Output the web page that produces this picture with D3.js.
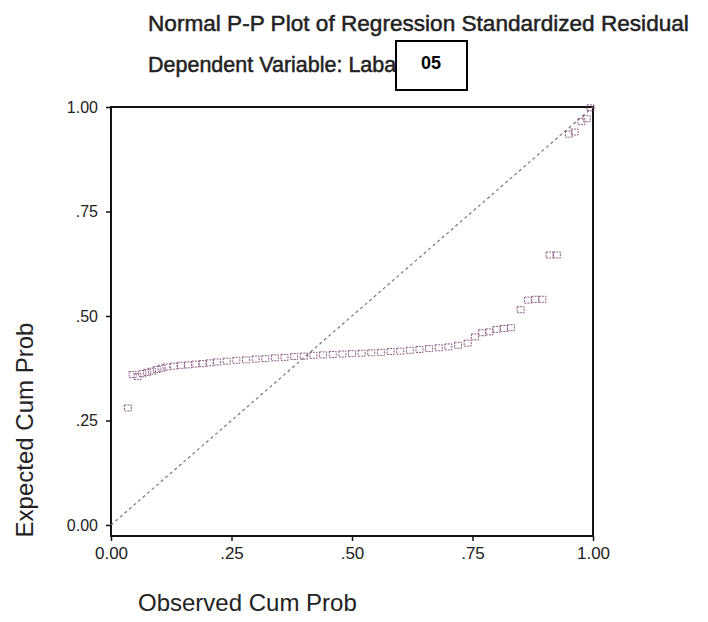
<!DOCTYPE html>
<html>
<head>
<meta charset="utf-8">
<script src="https://cdn.jsdelivr.net/npm/d3@7"></script>
<style>
  body { margin: 0; background: #fff; }
  text { font-family: "Liberation Sans", Arial, sans-serif; }
</style>
</head>
<body>
<svg id="chart" width="708" height="622"></svg>
<script>
// observed cum prob (x) and expected cum prob (y)
const observed = [0.035, 0.045, 0.055, 0.065, 0.075, 0.085, 0.095, 0.105, 0.115, 0.13,
    0.145, 0.16, 0.175, 0.19, 0.205, 0.22, 0.24, 0.26, 0.28, 0.30,
    0.32, 0.34, 0.36, 0.38, 0.40, 0.42, 0.44, 0.46, 0.48, 0.50,
    0.52, 0.54, 0.56, 0.58, 0.60, 0.62, 0.64, 0.66, 0.68, 0.70,
    0.72, 0.74, 0.755, 0.77, 0.785, 0.80, 0.815, 0.83, 0.85, 0.865,
    0.88, 0.895, 0.91, 0.925, 0.95, 0.962, 0.976, 0.987, 0.995]
const expected = [0.28, 0.36, 0.355, 0.362, 0.365, 0.368, 0.372, 0.375, 0.378, 0.38,
    0.382, 0.383, 0.385, 0.386, 0.388, 0.39, 0.392, 0.394, 0.395, 0.397,
    0.398, 0.40, 0.401, 0.403, 0.404, 0.406, 0.407, 0.408, 0.409, 0.41,
    0.411, 0.412, 0.413, 0.415, 0.416, 0.418, 0.42, 0.422, 0.424, 0.426,
    0.43, 0.435, 0.45, 0.46, 0.462, 0.468, 0.47, 0.472, 0.515, 0.538,
    0.54, 0.54, 0.646, 0.646, 0.935, 0.94, 0.965, 0.972, 0.998]
const tickValues = [0, 0.25, 0.5, 0.75, 1]
const tickLabels = ["0.00", ".25", ".50", ".75", "1.00"]

const points = observed.map((o, i) => ({ x: o, y: expected[i] }))

var svg = d3.select("#chart")
svg.append("rect").attr("width", 708).attr("height", 622).attr("fill", "#fff")

var x = d3.scaleLinear().domain([0, 1]).range([111, 593])
var y = d3.scaleLinear().domain([0, 1]).range([525, 107])
var bottom = 536

// titles
svg.append("text")
    .attr("x", 148).attr("y", 31)
    .attr("font-size", 22.6).attr("fill", "#222")
    .attr("stroke", "#222").attr("stroke-width", 0.5)
    .text("Normal P-P Plot of Regression Standardized Residual")
svg.append("text")
    .attr("x", 148).attr("y", 72)
    .attr("font-size", 21.5).attr("fill", "#222")
    .attr("stroke", "#222").attr("stroke-width", 0.5)
    .text("Dependent Variable: Laba")

// the "05" stamp box over the title
svg.append("rect")
    .attr("x", 396).attr("y", 41).attr("width", 71).attr("height", 49)
    .attr("fill", "#fff").attr("stroke", "#000").attr("stroke-width", 2)
svg.append("text")
    .attr("x", 431).attr("y", 69)
    .attr("text-anchor", "middle")
    .attr("font-size", 18).attr("font-weight", "bold")
    .text("05")

// frame
svg.append("rect")
    .attr("x", x(0)).attr("y", y(1))
    .attr("width", x(1) - x(0)).attr("height", bottom - y(1))
    .attr("fill", "none").attr("stroke", "#111").attr("stroke-width", 2)

// axes
svg.append("g")
    .attr("transform", "translate(0," + bottom + ")")
    .call(d3.axisBottom(x).tickValues(tickValues).tickFormat((d, i) => tickLabels[i]).tickSize(5).tickPadding(6))
    .call(g => g.select(".domain").remove())
    .call(g => g.selectAll("line").attr("stroke", "#111").attr("stroke-width", 1.5))
    .call(g => g.selectAll("text").attr("font-size", 17).attr("fill", "#222").attr("font-family", "Liberation Sans, Arial, sans-serif"))

svg.append("g")
    .attr("transform", "translate(" + x(0) + ",0)")
    .call(d3.axisLeft(y).tickValues(tickValues).tickFormat((d, i) => tickLabels[i]).tickSize(5).tickPadding(8))
    .call(g => g.select(".domain").remove())
    .call(g => g.selectAll("line").attr("stroke", "#111").attr("stroke-width", 1.5))
    .call(g => g.selectAll("text").attr("font-size", 16).attr("fill", "#222").attr("font-family", "Liberation Sans, Arial, sans-serif"))

// reference diagonal
svg.append("line")
    .attr("x1", x(0)).attr("y1", y(0))
    .attr("x2", x(1)).attr("y2", y(1))
    .attr("stroke", "#777").attr("stroke-width", 1.2)
    .attr("stroke-dasharray", "3,3")

// points: small hollow squares
svg.append("g")
    .selectAll("rect")
    .data(points)
    .enter().append("rect")
    .attr("x", d => x(d.x) - 3.5)
    .attr("y", d => y(d.y) - 3)
    .attr("width", 7)
    .attr("height", 6)
    .attr("fill", "none")
    .attr("stroke", "#8c5c84")
    .attr("stroke-width", 1)
    .attr("stroke-dasharray", "2,1")

// axis titles
svg.append("text")
    .attr("transform", "translate(33,430) rotate(-90)")
    .attr("text-anchor", "middle")
    .attr("font-size", 24).attr("fill", "#222")
    .text("Expected Cum Prob")
svg.append("text")
    .attr("x", 138).attr("y", 611)
    .attr("font-size", 24).attr("fill", "#222")
    .text("Observed Cum Prob")
</script>
</body>
</html>
